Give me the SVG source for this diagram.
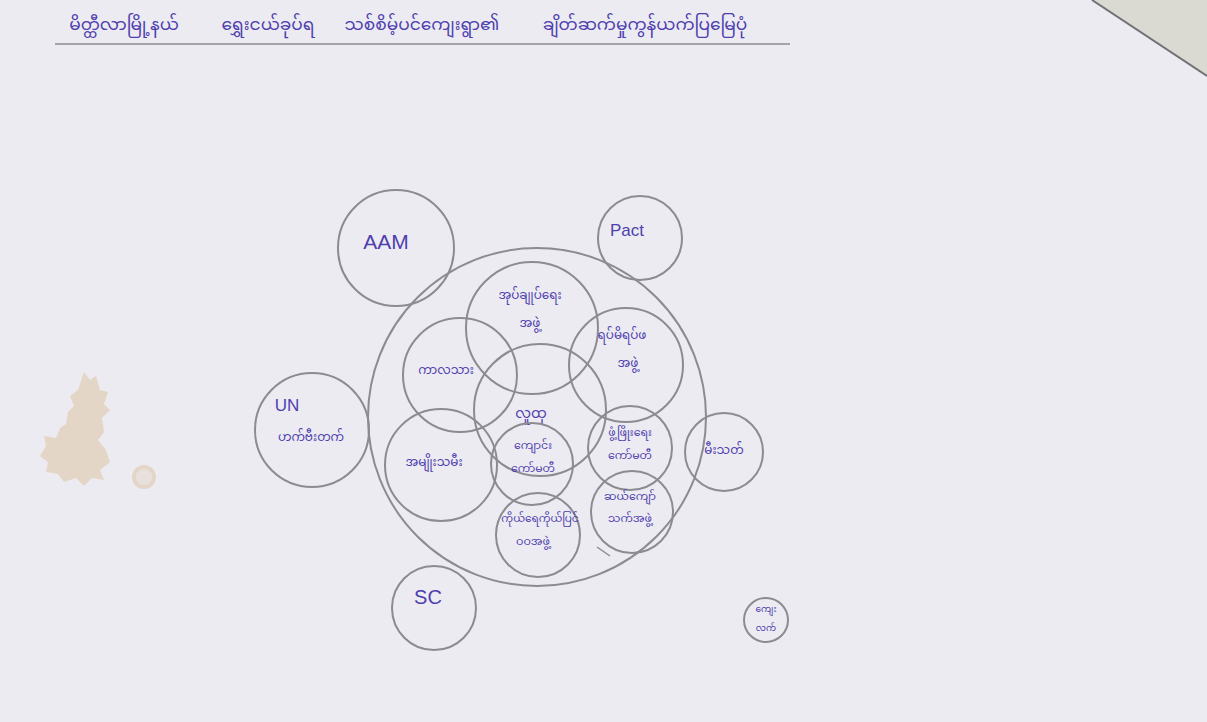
<svg xmlns="http://www.w3.org/2000/svg" width="1207" height="722" viewBox="0 0 1207 722">
<style>
.c{fill:none;stroke:#8c8b90;stroke-width:2}
.t{font-family:"Noto Sans Myanmar","Padauk","Myanmar Text","Noto Sans","DejaVu Sans",sans-serif;fill:#4f3fae;text-anchor:middle}
.l{font-family:"Liberation Sans","DejaVu Sans",sans-serif;fill:#4f3fae;text-anchor:middle}
</style>
<rect width="1207" height="722" fill="#ecebf2"/>
<polygon points="1092,0 1207,0 1207,76" fill="#dadad3"/>
<line x1="1092" y1="0" x2="1207" y2="76" stroke="#707075" stroke-width="2"/>
<g id="stain" fill="#d8b684" opacity="0.38">
<path d="M84,372 L90,380 L96,376 L100,390 L108,392 L104,404 L110,410 L102,418 L104,432 L98,440 L106,450 L110,462 L100,470 L104,480 L92,478 L84,486 L76,478 L64,482 L58,474 L46,472 L48,462 L40,456 L46,446 L44,436 L56,438 L60,428 L66,424 L68,412 L74,406 L70,396 L78,390 Z"/>
<circle cx="144" cy="477" r="10" fill="none" stroke="#d8b684" stroke-width="4"/>
<circle cx="144" cy="477" r="8" opacity="0.5"/>
</g>
<g id="title">
<text class="t" x="124" y="30" font-size="17">မိတ္ထီလာမြို့နယ်</text>
<text class="t" x="268" y="30" font-size="17">ရွှေးငယ်ခုပ်ရ</text>
<text class="t" x="422" y="30" font-size="17">သစ်စိမ့်ပင်ကျေးရွာ၏</text>
<text class="t" x="645" y="30" font-size="17">ချိတ်ဆက်မှုကွန်ယက်ပြမြေပုံ</text>
<line x1="55" y1="44" x2="790" y2="44" stroke="#8c8b90" stroke-width="1.5"/>
</g>
<g id="community">
<circle class="c" cx="537" cy="417" r="169"/>
</g>
<g id="admin"><circle class="c" cx="532" cy="328" r="66"/>
<text class="t" x="530" y="299" font-size="12">အုပ်ချုပ်ရေး</text><text class="t" x="530" y="327" font-size="12">အဖွဲ့</text></g>
<g id="youth"><circle class="c" cx="460" cy="375" r="57"/>
<text class="t" x="446" y="374" font-size="12">ကာလသား</text></g>
<g id="elders"><circle class="c" cx="626" cy="365" r="57"/>
<text class="t" x="622" y="339" font-size="12">ရပ်မိရပ်ဖ</text><text class="t" x="628" y="367" font-size="12">အဖွဲ့</text></g>
<g id="public"><circle class="c" cx="540" cy="410" r="66"/>
<text class="t" x="531" y="418" font-size="14">လူထု</text></g>
<g id="women"><circle class="c" cx="441" cy="465" r="56"/>
<text class="t" x="434" y="466" font-size="12">အမျိုးသမီး</text></g>
<g id="school"><circle class="c" cx="532" cy="464" r="41"/>
<text class="t" x="533" y="449" font-size="11">ကျောင်း</text><text class="t" x="533" y="472" font-size="11">ကော်မတီ</text></g>
<g id="development"><circle class="c" cx="630" cy="448" r="42"/>
<text class="t" x="630" y="436" font-size="11">ဖွံ့ဖြိုးရေး</text><text class="t" x="630" y="459" font-size="11">ကော်မတီ</text></g>
<g id="teen"><circle class="c" cx="632" cy="512" r="41"/>
<text class="t" x="630" y="500" font-size="11">ဆယ်ကျော်</text><text class="t" x="630" y="522" font-size="11">သက်အဖွဲ့</text></g>
<g id="selfhelp"><circle class="c" cx="538" cy="535" r="42"/>
<text class="t" x="540" y="522" font-size="10.5">ကိုယ်ရေကိုယ်ပြင်</text><text class="t" x="533" y="545" font-size="11">ဝဝအဖွဲ့</text></g>
<g id="aam"><circle class="c" cx="396" cy="248" r="58"/>
<text class="l" x="386" y="249" font-size="21">AAM</text></g>
<g id="pact"><circle class="c" cx="640" cy="238" r="42"/>
<text class="l" x="627" y="236" font-size="17">Pact</text></g>
<g id="un"><circle class="c" cx="312" cy="430" r="57"/>
<text class="l" x="287" y="411" font-size="17">UN</text><text class="t" x="311" y="441" font-size="12">ဟက်ဗီးတက်</text></g>
<g id="sc"><circle class="c" cx="434" cy="608" r="42"/>
<text class="l" x="428" y="604" font-size="20">SC</text></g>
<g id="fire"><circle class="c" cx="724" cy="452" r="39"/>
<text class="t" x="724" y="454" font-size="12">မီးသတ်</text></g>
<g id="rural"><circle class="c" cx="766" cy="620" r="22"/>
<text class="t" x="766" y="612" font-size="9">ကျေး</text><text class="t" x="766" y="631" font-size="9">လက်</text></g>
<g id="connectors"><line x1="597" y1="547" x2="610" y2="556" stroke="#8c8b90" stroke-width="1.5"/></g>
</svg>
